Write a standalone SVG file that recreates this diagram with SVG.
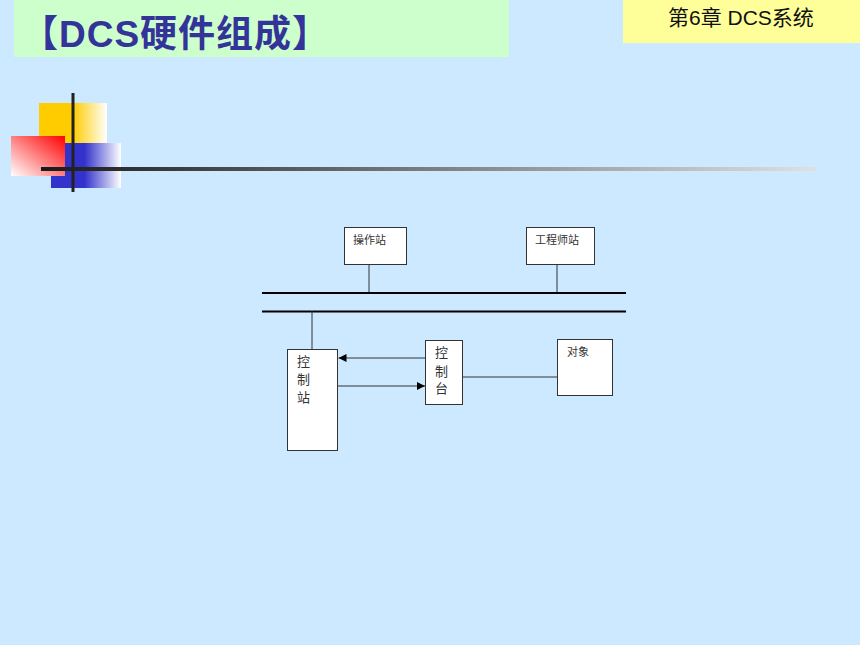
<svg xmlns="http://www.w3.org/2000/svg" width="860" height="645" viewBox="0 0 860 645">
<defs>
<linearGradient id="gy" x1="0" y1="0" x2="1" y2="0">
<stop offset="0.5" stop-color="#FFCC00"/><stop offset="1" stop-color="#FFFFFF"/>
</linearGradient>
<linearGradient id="gb" x1="0" y1="0" x2="1" y2="0">
<stop offset="0.48" stop-color="#3333CC"/><stop offset="1" stop-color="#FFFFFF"/>
</linearGradient>
<linearGradient id="gr" x1="1" y1="0" x2="0" y2="1">
<stop offset="0" stop-color="#FF0000"/><stop offset="1" stop-color="#FFFFFF"/>
</linearGradient>
<linearGradient id="gl" x1="0" y1="0" x2="1" y2="0">
<stop offset="0" stop-color="#1A1A1A"/><stop offset="1" stop-color="#E0E0E0"/>
</linearGradient>
<marker id="ah" viewBox="0 0 10 10" refX="10" refY="5" markerWidth="8" markerHeight="8" markerUnits="userSpaceOnUse" orient="auto">
<path d="M0,0 L10,5 L0,10 z" fill="#000"/>
</marker>
<style>
.box{fill:#FFFFFF;stroke:#333333;stroke-width:1}
.lbl{font-family:"Liberation Sans","Noto Sans CJK SC",sans-serif;font-size:11px;fill:#333333}
.vl{font-family:"Liberation Sans","Noto Sans CJK SC",sans-serif;font-size:13px;fill:#333333}
.ln{stroke:#333333;stroke-width:1;fill:none}
.bus{stroke:#000000;stroke-width:2;fill:none}
</style>
</defs>
<rect x="0" y="0" width="860" height="645" fill="#CCE9FF"/>
<rect x="14" y="0" width="495" height="57" fill="#CCFFCC"/>
<text x="21" y="47" font-family="'Liberation Sans','Noto Sans CJK SC',sans-serif" font-size="37" font-weight="bold" letter-spacing="1" fill="#333399">【DCS硬件组成】</text>
<rect x="623" y="0" width="237" height="43" fill="#FFFF99"/>
<text x="668" y="25" font-family="'Liberation Sans','Noto Sans CJK SC',sans-serif" font-size="21" fill="#111111">第6章 DCS系统</text>
<g id="decor">
<rect x="39" y="103" width="68" height="40" fill="url(#gy)"/>
<rect x="51" y="143" width="70" height="45" fill="url(#gb)"/>
<rect x="11" y="136" width="54" height="40" fill="url(#gr)"/>
<rect x="41" y="167" width="775" height="4" fill="url(#gl)"/>
<rect x="71.5" y="93" width="3" height="99" fill="#222222"/>
</g>
<g id="connectors">
<line class="ln" x1="369" y1="265" x2="369" y2="293"/>
<line class="ln" x1="557" y1="265" x2="557" y2="293"/>
<line class="bus" x1="262" y1="293" x2="626" y2="293"/>
<line class="bus" x1="262" y1="311.5" x2="626" y2="311.5"/>
<line class="ln" x1="312" y1="311" x2="312" y2="349"/>
<line class="ln" x1="425" y1="358" x2="338.5" y2="358" marker-end="url(#ah)"/>
<line class="ln" x1="338" y1="386" x2="425" y2="386" marker-end="url(#ah)"/>
<line class="ln" x1="463" y1="377" x2="557" y2="377"/>
</g>
<g id="n-czz">
<rect class="box" x="344.5" y="227.5" width="62" height="37"/>
<text class="lbl" x="353" y="244">操作站</text>
</g>
<g id="n-gcsz">
<rect class="box" x="526.5" y="227.5" width="68" height="37"/>
<text class="lbl" x="535" y="244">工程师站</text>
</g>
<g id="n-kzz">
<rect class="box" x="287.5" y="349.5" width="50" height="101"/>
<text class="vl" x="297" y="366">控</text>
<text class="vl" x="297" y="384">制</text>
<text class="vl" x="297" y="402">站</text>
</g>
<g id="n-kzt">
<rect class="box" x="425.5" y="340.5" width="37" height="64"/>
<text class="vl" x="435" y="357">控</text>
<text class="vl" x="435" y="376">制</text>
<text class="vl" x="435" y="393">台</text>
</g>
<g id="n-dx">
<rect class="box" x="557.5" y="339.5" width="55" height="56"/>
<text class="lbl" x="567" y="356">对象</text>
</g>
</svg>
